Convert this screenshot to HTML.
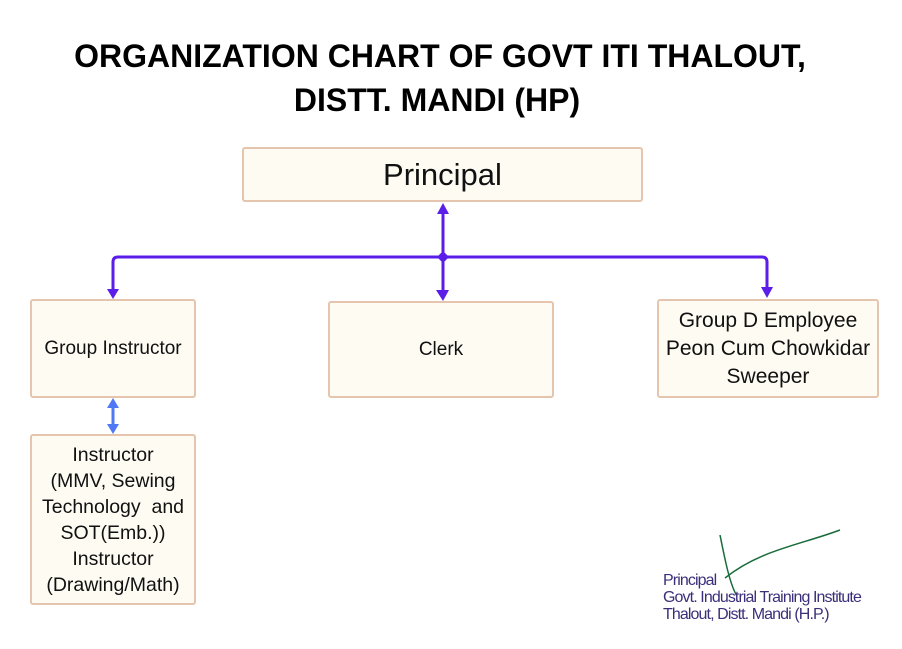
<!DOCTYPE html>
<html><head><meta charset="utf-8"><style>
body{margin:0;width:902px;height:649px;background:#fff;position:relative;overflow:hidden;font-family:"Liberation Sans",sans-serif;}
.t{position:absolute;left:0;width:880px;text-align:center;font-weight:bold;font-size:32px;color:#000;white-space:nowrap;}
.b{position:absolute;background:#fefbf3;border:2px solid #e5c5ad;border-radius:3px;box-sizing:border-box;display:flex;align-items:center;justify-content:center;text-align:center;color:#111;font-size:20px;line-height:26px;white-space:nowrap;}
.s{position:absolute;color:#3b2f7a;font-size:16px;line-height:17px;letter-spacing:-0.9px;white-space:nowrap;}
</style></head><body>
<div class="t" style="top:38px;left:0">ORGANIZATION CHART OF GOVT ITI THALOUT,</div>
<div class="t" style="top:82px;left:-3px">DISTT. MANDI (HP)</div>
<div class="b" style="left:242px;top:147px;width:401px;height:55px;font-size:31px">Principal</div>
<div class="b" style="left:30px;top:299px;width:166px;height:99px;font-size:19px">Group Instructor</div>
<div class="b" style="left:328px;top:301px;width:226px;height:97px;font-size:19px">Clerk</div>
<div class="b" style="left:657px;top:299px;width:222px;height:99px;font-size:21px;line-height:28px">Group D Employee<br>Peon Cum Chowkidar<br>Sweeper</div>
<div class="b" style="left:30px;top:434px;width:166px;height:171px;line-height:26px;font-size:19.5px">Instructor<br>(MMV, Sewing<br>Technology&nbsp; and<br>SOT(Emb.))<br>Instructor<br>(Drawing/Math)</div>
<svg width="902" height="649" style="position:absolute;left:0;top:0">
<g stroke="#5b1ee8" stroke-width="3" fill="none">
<path d="M443 212V257M443 257V290M113 290V262Q113 257 118 257H762Q767 257 767 262V290"/>
</g>
<g fill="#5b1ee8">
<polygon points="443,203 437,214 449,214"/>
<polygon points="443,251 437,257 443,263 449,257"/>
<polygon points="107,289 119,289 113,299"/>
<polygon points="436,290 449,290 443,301"/>
<polygon points="761,287 773,287 767,298"/>
</g>
<g stroke="#4f78f5" stroke-width="3"><path d="M113 406V427"/></g>
<g fill="#4f78f5"><polygon points="113,398 107,408 119,408"/><polygon points="107,424 119,424 113,434"/></g>
<path d="M720 535C725 560 730 585 737 596M725 578C760 550 800 545 840 530" stroke="#1a6b3a" stroke-width="1.5" fill="none"/>
</svg>
<div class="s" style="left:663px;top:572px">Principal<br>Govt. Industrial Training Institute<br>Thalout, Distt. Mandi (H.P.)</div>
</body></html>
